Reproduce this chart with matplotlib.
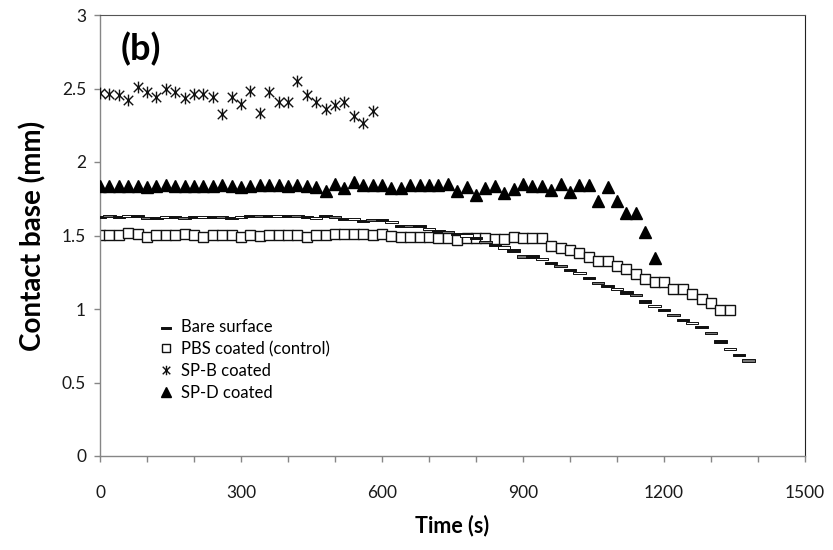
import matplotlib
matplotlib.use("Agg")
import matplotlib.pyplot as plt
from matplotlib.path import Path
from matplotlib.ticker import MultipleLocator, FixedLocator
import numpy as np

plt.rcParams['font.family'] = ['Lato', 'DejaVu Sans']

# ---------------- data ----------------
bare_t = list(range(0, 1381, 20))
bare_v = [1.627, 1.632, 1.627, 1.632, 1.632, 1.621, 1.621, 1.627, 1.627, 1.621,
          1.627, 1.627, 1.627, 1.627, 1.621, 1.627, 1.632, 1.632, 1.634, 1.634,
          1.632, 1.632, 1.627, 1.621, 1.632, 1.627, 1.612, 1.612, 1.600, 1.605,
          1.605,
          1.594, 1.567, 1.564, 1.564, 1.544, 1.530, 1.526, 1.510,
          1.500, 1.480, 1.455, 1.436, 1.418,
          1.398, 1.357, 1.357, 1.341, 1.312,
          1.290, 1.264, 1.245, 1.210, 1.179, 1.156, 1.139, 1.112, 1.095, 1.051,
          1.022, 0.993, 0.958, 0.927, 0.905, 0.875, 0.838, 0.779, 0.730, 0.689,
          0.650]

pbs_t = list(range(0, 1341, 20))
pbs_v = [1.503, 1.503, 1.503, 1.515, 1.508, 1.492, 1.503, 1.503, 1.503, 1.510,
         1.503, 1.492, 1.503, 1.503, 1.503, 1.492, 1.503, 1.497, 1.503, 1.503,
         1.503, 1.503, 1.492, 1.503, 1.503, 1.508, 1.508, 1.508, 1.508, 1.503,
         1.508,
         1.500, 1.492, 1.490, 1.490, 1.490, 1.480, 1.480, 1.470, 1.480, 1.480,
         1.480, 1.477, 1.477, 1.492, 1.480, 1.480, 1.480, 1.431, 1.413, 1.398,
         1.380,
         1.353, 1.324, 1.324, 1.295, 1.272, 1.241, 1.205, 1.183, 1.183, 1.134,
         1.134, 1.100, 1.071, 1.044, 0.995, 0.995]

spb_t = list(range(0, 581, 20))
spb_v = [2.466, 2.465, 2.459, 2.425, 2.511, 2.473, 2.443, 2.500, 2.473, 2.435,
         2.465, 2.465, 2.445, 2.325, 2.445, 2.395, 2.485, 2.331, 2.473, 2.409,
         2.405, 2.551, 2.455, 2.409, 2.358, 2.385, 2.405, 2.313, 2.265, 2.348]

spd_t = list(range(0, 1181, 20))
spd_v = [1.838, 1.838, 1.838, 1.838, 1.838, 1.828, 1.838, 1.843, 1.838, 1.838,
         1.838, 1.838, 1.838, 1.843, 1.838, 1.828, 1.838, 1.843, 1.843, 1.843,
         1.838, 1.843, 1.838, 1.828, 1.803, 1.848, 1.823, 1.863, 1.843, 1.843,
         1.844, 1.822, 1.822, 1.844, 1.844, 1.844, 1.844, 1.851, 1.803, 1.829,
         1.777, 1.822, 1.840, 1.788, 1.819, 1.851, 1.840, 1.840, 1.811, 1.851,
         1.799, 1.844, 1.844, 1.732, 1.829, 1.732, 1.653, 1.653, 1.522, 1.349]

labels = ["Bare surface", "PBS coated (control)", "SP-B coated", "SP-D coated"]
x_ticks = [0, 300, 600, 900, 1200, 1500]
y_ticks = [0, 0.5, 1, 1.5, 2, 2.5, 3]
y_ticklabels = ["0", "0.5", "1", "1.5", "2", "2.5", "3"]

# ---------------- figure ----------------
fig = plt.figure(figsize=(8.33, 5.5), dpi=100)
ax = fig.add_axes([100/833, 94/550, 705/833, 441/550])

# markers
dash = Path([(-1, -0.17), (1, -0.17), (1, 0.17), (-1, 0.17), (-1, -0.17)],
            [Path.MOVETO, Path.LINETO, Path.LINETO, Path.LINETO, Path.CLOSEPOLY])
star = Path([(-1, -1), (1, 1), (-1, 1), (1, -1), (0, -1.25), (0, 1.25)],
            [Path.MOVETO, Path.LINETO, Path.MOVETO, Path.LINETO, Path.MOVETO, Path.LINETO])

shade_cycle = ['#111111', '#777777', '#111111', '#ffffff']
bare_faces = [shade_cycle[i % len(shade_cycle)] for i in range(len(bare_t))]

h1 = ax.scatter(bare_t, bare_v, marker=dash, s=80, facecolors=bare_faces,
                edgecolors='#111111', linewidths=0.7, zorder=3, label=labels[0])
h2, = ax.plot(pbs_t, pbs_v, ls='none', marker='s', ms=7.2, mfc='white',
              mec='#111111', mew=1.0, zorder=2, label=labels[1])
h3, = ax.plot(spb_t, spb_v, ls='none', marker=star, ms=8.5, color='#111111',
              mew=1.0, zorder=3, label=labels[2])
h4, = ax.plot(spd_t, spd_v, ls='none', marker='^', ms=8.2, color='black',
              zorder=3, label=labels[3])

ax.set_xlim(0, 1500)
ax.set_ylim(0, 3)
ax.xaxis.set_major_locator(FixedLocator(x_ticks))
ax.xaxis.set_minor_locator(MultipleLocator(100))
ax.yaxis.set_major_locator(FixedLocator(y_ticks))
ax.set_yticklabels(y_ticklabels)

axis_gray = '#868686'
for side in ['left', 'bottom']:
    ax.spines[side].set_color(axis_gray)
    ax.spines[side].set_linewidth(1.0)
ax.spines['top'].set_color('#555555')
ax.spines['right'].set_color('#222222')
ax.tick_params(axis='both', which='both', direction='out', color=axis_gray,
               length=4, width=1, labelsize=12.5, labelcolor='#1a1a1a')
ax.tick_params(axis='x', which='both', pad=17)
ax.tick_params(axis='y', which='major', pad=6)

ax.set_xlabel("Time (s)", fontsize=15.5, fontweight='bold', labelpad=10)
ax.set_ylabel("Contact base (mm)", fontsize=20, fontweight='bold', labelpad=11)

ax.text(0.029, 0.962, "(b)", transform=ax.transAxes, fontsize=26,
        fontweight='bold', va='top', ha='left')

leg = ax.legend(handles=[h1, h2, h3, h4], labels=labels, loc='upper left',
                bbox_to_anchor=(0.075, 0.325), frameon=False, fontsize=12,
                handlelength=0.8, handletextpad=0.5, labelspacing=0.35,
                borderaxespad=0, scatterpoints=1, markerscale=0.8)

fig.savefig("out.png", dpi=100)
